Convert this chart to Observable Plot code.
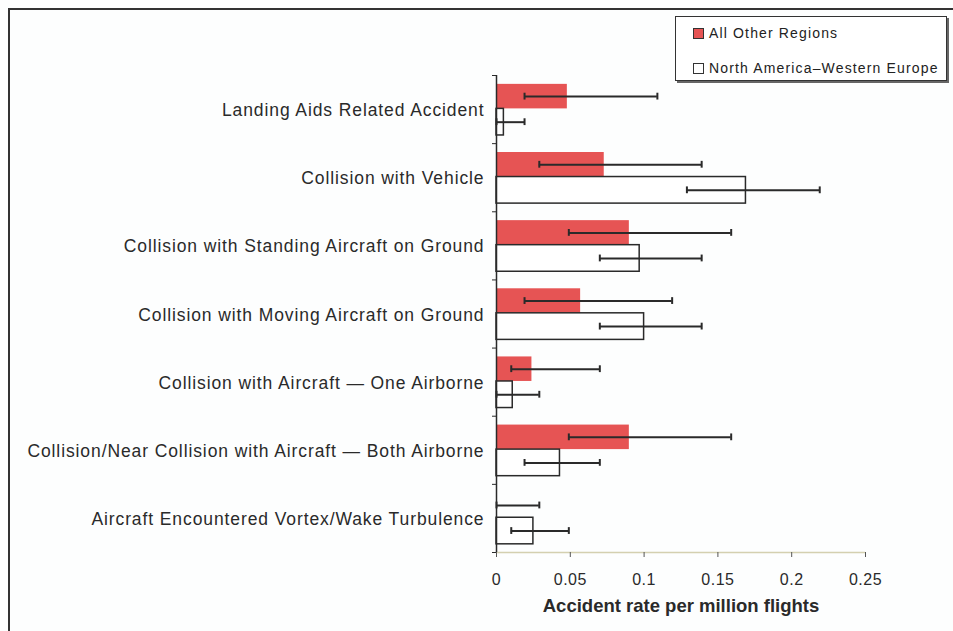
<!DOCTYPE html>
<html><head><meta charset="utf-8">
<script src="https://cdn.jsdelivr.net/npm/d3@7"></script>
<script src="https://cdn.jsdelivr.net/npm/@observablehq/plot@0.6"></script>
<style>
body{margin:0;background:#fdfefe;font-family:"Liberation Sans",Arial,sans-serif;}
#wrap{position:relative;width:953px;height:631px;overflow:hidden;background:#fdfefe;}
#frame{position:absolute;left:8px;top:8px;width:2000px;height:2000px;border-left:2px solid #333;border-top:2px solid #333;}
#chart{position:absolute;left:0;top:0;}
#chart g[aria-label="y-axis tick label"] text{letter-spacing:0.9px;}
#chart g[aria-label="x-axis tick label"] text{letter-spacing:0.5px;}
#chart g[aria-label="x-title"] text{letter-spacing:0.4px;}
#legend{position:absolute;left:675px;top:16px;width:270px;height:63px;border:1.5px solid #333;box-shadow:2px 2px 0 #666;background:#fff;z-index:2;color:#222;font-size:14px;letter-spacing:1.15px;}
.item{position:absolute;left:17px;display:flex;align-items:center;}
.sw{width:9px;height:9px;border:1.2px solid #333;margin-right:5px;}
</style>
</head><body>
<div id="wrap">
  <div id="frame"></div>
  <div id="chart"></div>
  <div id="legend"></div>
</div>
<script>
const categories = [
  "Landing Aids Related Accident",
  "Collision with Vehicle",
  "Collision with Standing Aircraft on Ground",
  "Collision with Moving Aircraft on Ground",
  "Collision with Aircraft \u2014 One Airborne",
  "Collision/Near Collision with Aircraft \u2014 Both Airborne",
  "Aircraft Encountered Vortex/Wake Turbulence"
];
const seriesNames = ["All Other Regions", "North America\u2013Western Europe"];
const otherRate = [0.048, 0.073, 0.090, 0.057, 0.024, 0.090, 0];
const otherLow  = [0.019, 0.029, 0.049, 0.019, 0.010, 0.049, 0];
const otherHigh = [0.109, 0.139, 0.159, 0.119, 0.070, 0.159, 0.029];
const naweRate  = [0.005, 0.169, 0.097, 0.100, 0.011, 0.043, 0.025];
const naweLow   = [0, 0.129, 0.070, 0.070, 0, 0.019, 0.010];
const naweHigh  = [0.019, 0.219, 0.139, 0.139, 0.029, 0.070, 0.049];
const xTicks = [0, 0.05, 0.1, 0.15, 0.2, 0.25];
const xTickLabels = ["0", "0.05", "0.1", "0.15", "0.2", "0.25"];
const xLabel = "Accident rate per million flights";

const RED = "#e65454";
const INK = "#2a2a2a";
const n = categories.length;
const redTop = 0.13, mid = 0.49, whiteBot = 0.88, cap = 0.05;
const other = categories.map((c, i) => ({i, v: otherRate[i], lo: otherLow[i], hi: otherHigh[i], yc: i + (redTop + mid) / 2}));
const nawe = categories.map((c, i) => ({i, v: naweRate[i], lo: naweLow[i], hi: naweHigh[i], yc: i + (mid + whiteBot) / 2}));
const errs = other.concat(nawe);

const errMarks = [
  Plot.ruleY(errs, {y: "yc", x1: "lo", x2: "hi", stroke: INK, strokeWidth: 2}),
  Plot.ruleX(errs, {x: "lo", y1: d => d.yc - cap, y2: d => d.yc + cap, stroke: INK, strokeWidth: 2}),
  Plot.ruleX(errs, {x: "hi", y1: d => d.yc - cap, y2: d => d.yc + cap, stroke: INK, strokeWidth: 2})
];

const chart = Plot.plot({
  width: 953, height: 631,
  marginLeft: 496, marginRight: 88, marginTop: 75, marginBottom: 79,
  style: {fontFamily: "'Liberation Sans', Arial, sans-serif", fontSize: "16px", color: INK, background: "transparent"},
  x: {domain: [0, 0.25], label: null},
  y: {domain: [0, n], reverse: true, label: null},
  marks: [
    Plot.ruleY([n], {stroke: "#d4d0b0", strokeWidth: 1.5}),
    Plot.rectX(other, {x1: 0, x2: "v", y1: d => d.i + redTop, y2: d => d.i + mid, fill: RED}),
    Plot.rectX(nawe, {x1: 0, x2: "v", y1: d => d.i + mid, y2: d => d.i + whiteBot, fill: "white", stroke: INK, strokeWidth: 1.5}),
    ...errMarks,
    Plot.ruleX([0], {stroke: INK, strokeWidth: 1.5}),
    Plot.axisX({ticks: xTicks, tickFormat: d => xTickLabels[xTicks.indexOf(d)], tickSize: 5, tickPadding: 16, fontSize: 16, label: null, stroke: "#555"}),
    Plot.axisY({ticks: d3.range(n + 1), tickFormat: () => "", tickSize: 4, label: null, stroke: INK}),
    Plot.axisY({ticks: categories.map((c, i) => i + 0.5), tickFormat: d => categories[Math.floor(d)], tickSize: 0, tickPadding: 12, fontSize: 17.5, dy: 1, label: null}),
    Plot.text([xLabel], {frameAnchor: "bottom", dy: 59, fontWeight: "bold", fontSize: 18.5, fill: INK, ariaLabel: "x-title"})
  ]
});
document.getElementById("chart").appendChild(chart);

const legend = document.getElementById("legend");
const fills = [RED, "#ffffff"];
seriesNames.forEach((name, k) => {
  const it = document.createElement("div");
  it.className = "item";
  it.style.top = (k === 0 ? 8 : 43) + "px";
  const sw = document.createElement("div");
  sw.className = "sw";
  sw.style.background = fills[k];
  const t = document.createElement("span");
  t.textContent = name;
  it.appendChild(sw); it.appendChild(t);
  legend.appendChild(it);
});
</script>
</body></html>
